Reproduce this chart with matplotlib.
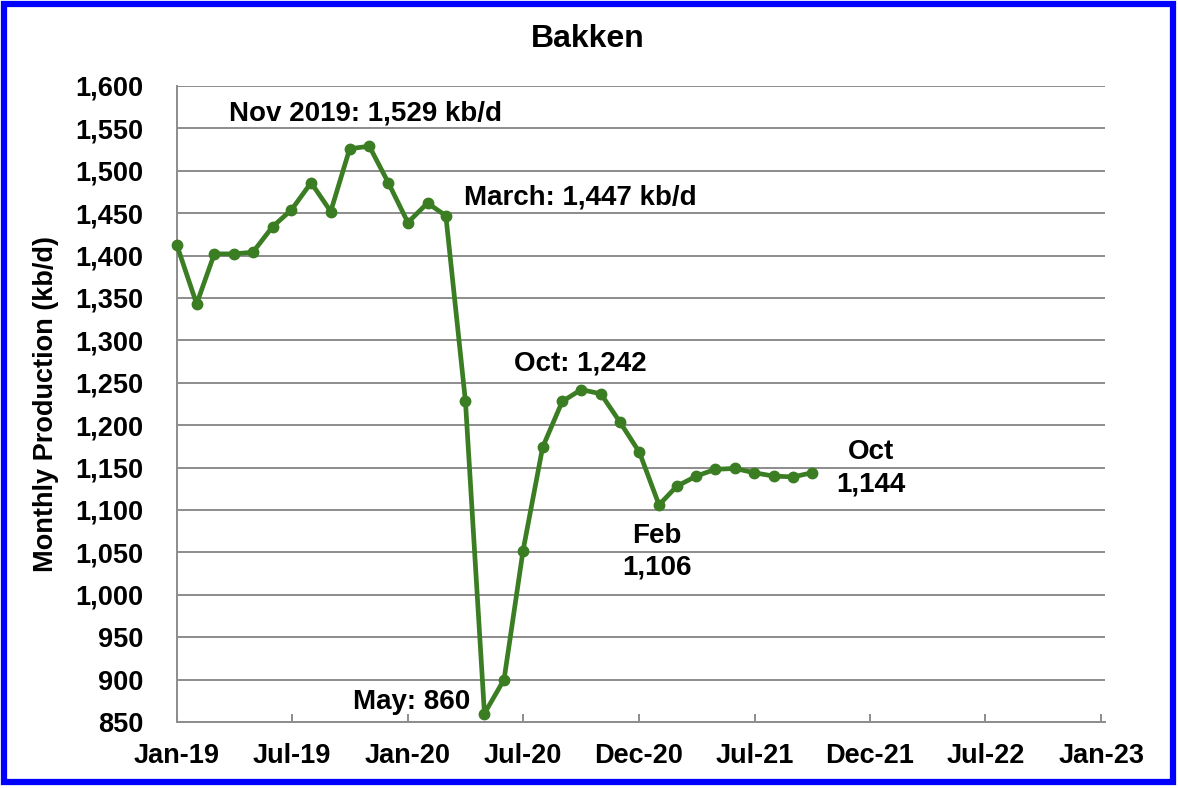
import matplotlib
matplotlib.use("Agg")
import matplotlib.pyplot as plt
from matplotlib.ticker import FuncFormatter, MultipleLocator
from matplotlib.patches import Rectangle
import pandas as pd

# ---------------- data ----------------
months = pd.date_range("2019-01-01", "2021-10-01", freq="MS")
production = [1412, 1343, 1402, 1402, 1404, 1434, 1454, 1486, 1452, 1526, 1529, 1486,
              1439, 1462, 1447, 1228, 860, 900, 1052, 1174, 1228, 1242, 1237, 1204,
              1168, 1106, 1128, 1140, 1148, 1149, 1144, 1140, 1139, 1144]

tick_dates = ["2019-01-01", "2019-07-02", "2020-01-01", "2020-07-01", "2020-12-31",
              "2021-07-02", "2021-12-31", "2022-07-02", "2023-01-01"]
tick_labels = ["Jan-19", "Jul-19", "Jan-20", "Jul-20", "Dec-20",
               "Jul-21", "Dec-21", "Jul-22", "Jan-23"]

title = "Bakken"
ylabel = "Monthly Production (kb/d)"
annotations = [
    ("Nov 2019: 1,529 kb/d", "2019-03-24", 1567, "left"),
    ("March: 1,447 kb/d", "2020-03-29", 1468, "left"),
    ("Oct: 1,242", "2020-06-16", 1273, "left"),
    ("May: 860", "2020-04-09", 874, "right"),
    ("Oct\n1,144", "2022-01-02", 1149, "center"),
    ("Feb\n1,106", "2021-01-29", 1051, "center"),
]

# ---------------- style ----------------
plt.rcParams['font.family'] = ['Liberation Sans', 'DejaVu Sans']
plt.rcParams['font.weight'] = 'bold'
green = "#3B7D23"
grid_gray = "#8C8C8C"

W, H = 1178, 788
fig = plt.figure(figsize=(W / 100, H / 100), dpi=100)
ax = fig.add_axes([177 / W, 1 - 722 / H, (1105 - 177) / W, (722 - 86) / H])

ax.plot(months, production, color=green, lw=3.4, marker="o", ms=7.5,
        markerfacecolor=green, markeredgecolor=green, zorder=3, clip_on=False)

ax.set_ylim(850, 1600)
ax.yaxis.set_major_locator(MultipleLocator(50))
ax.yaxis.set_major_formatter(FuncFormatter(lambda v, p: f"{int(v):,}"))
ax.set_xlim(pd.Timestamp("2019-01-01"), pd.Timestamp("2023-01-07"))
ax.set_xticks(pd.to_datetime(tick_dates))
ax.set_xticklabels(tick_labels)

ax.grid(axis="y", color=grid_gray, lw=1.4)
ax.set_axisbelow(True)
for s in ["top", "right"]:
    ax.spines[s].set_visible(False)
for s in ["left", "bottom"]:
    ax.spines[s].set_color(grid_gray)
    ax.spines[s].set_linewidth(1.4)

ax.tick_params(axis="x", direction="in", length=6, width=1.4, color=grid_gray,
               labelsize=19.5, pad=15)
ax.tick_params(axis="y", length=0, labelsize=19.5, pad=24)
for lbl in ax.get_xticklabels() + ax.get_yticklabels():
    lbl.set_fontweight("bold")

ax.set_ylabel(ylabel, fontsize=19.5, fontweight="bold", labelpad=12)
fig.text(588 / W, 1 - 39 / H, title, ha="center", va="center",
         fontsize=23, fontweight="bold")

for text, d, y, ha in annotations:
    ax.text(pd.Timestamp(d), y, text, ha=ha, va="center", fontsize=20,
            fontweight="bold", linespacing=1.3)

# blue border around the chart
fig.patches.append(Rectangle((4 / W, 1 - 781.5 / H), (1172.5 - 4) / W, (781.5 - 4) / H,
                             transform=fig.transFigure, fill=False,
                             edgecolor="#0000FF", lw=4.5, zorder=10))

fig.savefig("out.png", dpi=100)
